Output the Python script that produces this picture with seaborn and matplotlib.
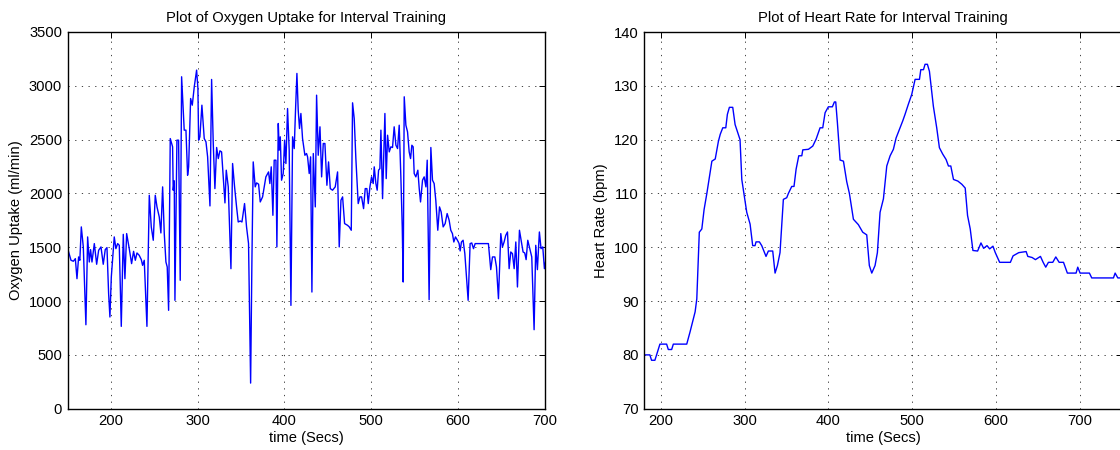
import numpy as np
import pandas as pd
import matplotlib
matplotlib.use("Agg")
import matplotlib.pyplot as plt
import seaborn as sns

# ---------------- data ----------------
o2_time = [150, 153.8, 156.5, 158.8, 160.7, 162.6, 164, 165.7, 168, 171, 173, 174.9, 176.4, 178,
           180.7, 183.4, 185.7, 188.4, 191, 193.3, 195.3, 197.2, 198.7, 200.3, 203.7, 205.6, 207.6,
           209.5, 211.8, 214.1, 216, 218, 221, 223.7, 226, 228, 229.9, 232.5, 234.9, 236.4, 238.3,
           241.4, 244.1, 246.4, 248.7, 251, 253, 255.6, 257.5, 259.5, 261.4, 263.3, 264.8, 266.4,
           268.3, 271, 271.7, 272.9, 273.7, 276, 277.9, 279.8, 281.4, 284.4, 286.4, 288.3, 289.5,
           291.8, 293.7, 296, 298.7, 300.2, 301, 302.5, 304.8, 307.5, 309.5, 311.4, 314.1, 316,
           317.9, 319.8, 321.8, 323.7, 325.6, 327.5, 329.4, 331.4, 332.9, 335.2, 338.3, 340.2,
           342.5, 344.8, 346.7, 349, 351, 354, 356.3, 358.6, 361, 362.5, 364, 366.3, 367.9, 370.2,
           372.1, 374.8, 378.6, 381.7, 383.2, 384.8, 386.7, 388.2, 390.2, 391.3, 392.9, 394, 395.2,
           396.7, 398.6, 400.2, 401.7, 403.6, 405.5, 407.5, 409.4, 411.3, 412.8, 414.4, 415.9,
           417.4, 419, 420.9, 423.6, 425.5, 426.7, 428.6, 430.2, 431.7, 433.3, 435.6, 437.1, 439,
           441, 442.9, 444.8, 446.7, 449, 450.9, 452.9, 455.5, 458.6, 461.3, 463.2, 465.2, 467.1,
           469.4, 472.8, 474.8, 477.1, 478.6, 480.5, 482.4, 485.1, 487.1, 489, 491.3, 493.2, 495.1,
           496.7, 498.6, 500.5, 502.4, 503.6, 505.5, 507, 508.6, 510.1, 511.3, 513.2, 515.9, 517.4,
           519, 520.9, 522.8, 524.7, 526.6, 528.6, 530.5, 532.4, 534.3, 535.9, 537, 538.2, 540.1,
           542, 543.9, 545.5, 547, 548.5, 549.7, 551.6, 553.9, 555.5, 557, 559.3, 561.2, 563.2,
           564.7, 566.9, 568.9, 570.8, 572.7, 574.6, 576.9, 578.9, 580.8, 583.1, 585.4, 587.7, 590,
           591.9, 593.8, 595.4, 597.3, 599.6, 601.5, 602.7, 604.2, 606.1, 608.1, 610, 611.9, 614.2,
           616.1, 618.1, 620, 635.3, 638, 640, 642.7, 644.6, 646.9, 649.6, 651.5, 653.4, 655.3,
           657.3, 659.2, 661.1, 663, 665, 666.9, 668.8, 671.1, 673.4, 675.3, 677.2, 678.8, 680.7,
           683, 685.3, 688, 689.9, 691.8, 694.1, 696, 698, 699.9, 702]
o2_uptake = [1487, 1379, 1370, 1394, 1208, 1410, 1379, 1689, 1503, 780, 1596, 1363, 1478, 1363,
             1534, 1342, 1472, 1503, 1342, 1478, 1497, 1069, 852, 1224, 1596, 1487, 1534,
             1518, 765, 1620, 1208, 1627, 1487, 1348, 1462, 1379, 1447, 1425, 1385, 1332, 1379,
             765, 1983, 1689, 1565, 1983, 1875, 1782, 1633, 2061, 1627, 1363, 1317, 914,
             2510, 2433, 2030, 2117, 1007, 2495, 2495, 1193, 3084, 2588, 2588, 2169, 2247,
             2882, 2820, 2991, 3146, 2975, 2495, 2526, 2820, 2510, 2479, 2340, 1884, 3059,
             2464, 2045, 2427, 2324, 2396, 2386, 2154, 1912, 2216, 2061, 1301, 2278,
             2061, 1875, 1735, 1744, 1735, 1906, 1689, 1534, 238, 1379, 2293, 2061, 2098, 2086,
             1921, 1968, 2154, 2200, 2092, 2247, 1797, 2309, 2309, 1503, 2650, 2402, 2526,
             2123, 2185, 2495, 2278, 2789, 2402, 960, 2526, 2417, 2774, 3115, 2774,
             2603, 2743, 2510, 2355, 2371, 2340, 2185, 2340, 1084, 2371, 1875, 2913, 2355,
             2619, 2154, 2464, 2464, 2076, 2293, 2045, 2030, 2061, 2200, 1503, 1937, 1968,
             1720, 1704, 1689, 1658, 2842, 2696, 2324, 1906, 1968, 1968, 1859, 2045, 2045,
             1906, 2061, 2154, 2092, 2247, 2092, 2030, 2216, 2231, 2588, 1952, 2743, 2138,
             2541, 2386, 2433, 2427, 2619, 2448, 2417, 2634, 2154, 1689, 1177, 2898, 2634,
             2572, 2386, 2324, 2448, 2433, 2185, 2154, 2216, 2045, 1921, 2123, 2154, 2061,
             2309, 1013, 2427, 2123, 2092, 1937, 1658, 1875, 1828, 1689, 1720, 1813, 1751,
             1658, 1627, 1549, 1596, 1565, 1534, 1466, 1549, 1565, 1441, 1224, 1007, 1534,
             1540, 1487, 1534, 1534, 1292, 1410, 1410, 1317, 1022, 1627, 1503, 1549, 1611,
             1642, 1301, 1456, 1441, 1301, 1549, 1131, 1658, 1549, 1456, 1447, 1385, 1565,
             1487, 1410, 734, 1518, 1292, 1642, 1487, 1503, 1301, 1400]

hr_time = [180, 187, 189, 193, 197, 199, 207, 209, 213, 215, 231, 235, 241, 243, 246, 249, 251.7,
           255, 257, 261, 265, 268.8, 271, 274, 277.6, 279.5, 281.9, 285.9, 288.7, 294.6, 296.7,
           302.6, 306.6, 309.7, 312.5, 313.7, 317.7, 320.5, 325.6, 328.4, 333.6, 336.4, 339.2,
           342.3, 346.3, 350.3, 352.3, 356.3, 359, 361.5, 364.7, 368.3, 369.5, 376.2, 381.4,
           385.4, 390.1, 393.3, 396.1, 400, 404.8, 407.2, 408.8, 410.8, 414, 418, 421.9, 425.1,
           429.9, 435.8, 441, 445.8, 448.9, 451.8, 455.7, 458.5, 461.7, 465.7, 469.7, 473.7,
           477.6, 480.8, 484.8, 488.8, 491.5, 495.5, 499.5, 503.5, 508.7, 510.3, 513.5, 515.4,
           518.2, 520.6, 525.3, 529.3, 532.5, 536.5, 540.5, 543.3, 546.1, 549.3, 554.5, 559.3,
           563.3, 566.1, 569.3, 572.5, 578.1, 582.1, 585.3, 589.3, 592.5, 596.4, 599.2, 604.4,
           617.2, 620.4, 627.2, 636, 638, 643.1, 647.1, 653.1, 656.3, 659.4, 662.6, 667.8,
           671.4, 675.4, 680.6, 685.2, 695.6, 697.6, 700.4, 711.5, 714.3, 740.2, 742.2, 745.4, 750]
hr_bpm = [80, 80, 79, 79, 81, 82, 82, 81, 81, 82, 82, 84.3, 88, 90.4, 102.8, 103.4, 107,
          110, 112, 116, 116.4, 119.7, 121, 122.2, 122.2, 124.7, 126, 126, 122.8, 120, 112.6,
          106.5, 104.3, 100.3, 100.3, 101, 101, 100.3, 98.3, 99.3, 99.3, 95.2, 96.6,
          99, 108.9, 109.2, 110, 111.3, 111.3, 114.5, 117, 117, 118.1, 118.2, 118.8,
          120.1, 122.2, 122.2, 125, 126.1, 126.1, 127, 127, 123.1, 116.2, 116, 112.2, 110,
          105.2, 104.2, 102.8, 102.3, 96.6, 95.2, 96.6, 99, 106.5, 109, 115.1, 117,
          118.2, 120.3, 121.9, 123.5, 124.7, 126.6, 128.4, 131.2, 131.2, 133, 133, 134,
          134, 132.7, 126.2, 122.2, 118.5, 117.3, 116.3, 115.1, 115.1, 112.6, 112.3, 111.7,
          111, 105.9, 103.4, 99.4, 99.3, 100.8, 99.8, 100.3, 99.7, 100.2, 99, 97.2,
          97.2, 98.4, 99, 99.2, 98.3, 98.1, 97.7, 98.3, 97.2, 96.3, 97.2, 97.2,
          98.2, 97.2, 97.2, 95.2, 95.2, 96.3, 95.2, 95.2, 94.3, 94.3, 95.2, 94.3, 94.3]

o2_yticks = [0, 500, 1000, 1500, 2000, 2500, 3000, 3500]
hr_yticks = [70, 80, 90, 100, 110, 120, 130, 140]
x_ticks = [200, 300, 400, 500, 600, 700]

# ---------------- style ----------------
sns.set_theme(style="white")
plt.rcParams['font.family'] = ['Liberation Sans', 'DejaVu Sans']
FS = 10.6

fig = plt.figure(figsize=(11.2, 4.5), dpi=100)
ax1 = fig.add_axes([67.7 / 1120, 41.3 / 450, 476.8 / 1120, 376.7 / 450])
ax2 = fig.add_axes([644 / 1120, 41.3 / 450, 478 / 1120, 376.7 / 450])

df_o2 = pd.DataFrame({"time": o2_time, "o2": o2_uptake})
df_hr = pd.DataFrame({"time": hr_time, "hr": hr_bpm})

sns.lineplot(data=df_o2, x="time", y="o2", ax=ax1, color="#0000ff", linewidth=1.0,
             estimator=None, sort=False)
sns.lineplot(data=df_hr, x="time", y="hr", ax=ax2, color="#0000ff", linewidth=1.0,
             estimator=None, sort=False)

def style(ax, yticks, ylim, xlim, title, ylabel):
    ax.set_xlim(*xlim)
    ax.set_ylim(*ylim)
    ax.set_xticks(x_ticks)
    ax.set_yticks(yticks)
    ax.set_title(title, fontsize=FS, pad=7, color="black")
    ax.set_xlabel("time (Secs)", fontsize=FS, labelpad=2, color="black")
    ax.set_ylabel(ylabel, fontsize=FS, labelpad=4, color="black")
    ax.grid(True, linestyle=(0, (1.5, 6.5)), color="#222222", linewidth=0.6)
    ax.tick_params(direction="in", top=True, right=True, length=4, width=0.7,
                   labelsize=FS, colors="black", pad=4)
    for s in ax.spines.values():
        s.set_visible(True)
        s.set_color("black")
        s.set_linewidth(1.0)
    ax.set_facecolor("white")

style(ax1, o2_yticks, (0, 3500), (150, 700),
      "Plot of Oxygen Uptake for Interval Training", "Oxygen Uptake (ml/min)")
style(ax2, hr_yticks, (70, 140), (180, 750.4),
      "Plot of Heart Rate for Interval Training", "Heart Rate (bpm)")

fig.savefig("out.png", dpi=100, facecolor="white")
